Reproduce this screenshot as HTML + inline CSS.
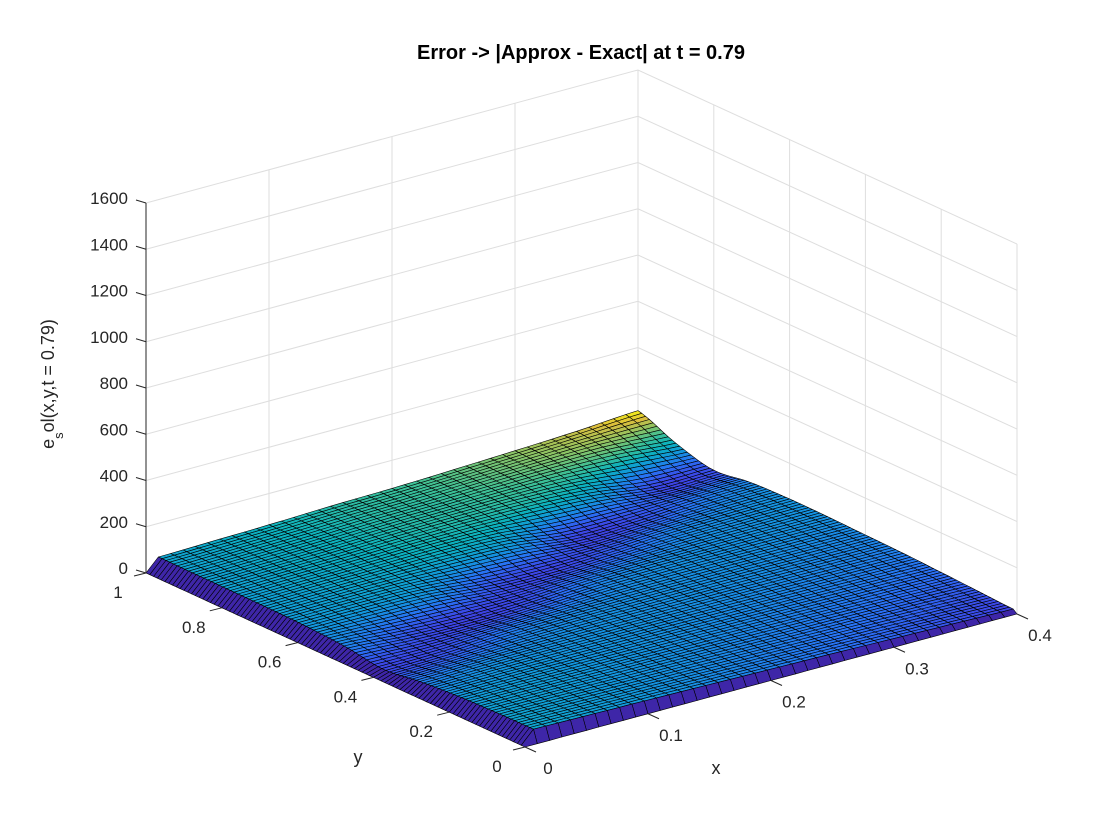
<!DOCTYPE html>
<html>
<head>
<meta charset="utf-8">
<style>
  html,body{margin:0;padding:0;background:#fff;}
  svg{display:block;}
  text{font-family:"Liberation Sans",Arial,sans-serif;fill:#262626;}
</style>
</head>
<body>
<svg id="chart" width="1120" height="840" viewBox="0 0 1120 840" xmlns="http://www.w3.org/2000/svg">
  <rect x="0" y="0" width="1120" height="840" fill="#fff"/>
  <g id="grid"></g>
  <g id="surface"></g>
  <g id="axes"></g>
  <text x="581" y="59" text-anchor="middle" font-size="20" font-weight="bold" style="fill:#000">Error -&gt; |Approx - Exact| at t = 0.79</text>
  <text x="358" y="763" text-anchor="middle" font-size="18">y</text>
  <text x="716" y="774" text-anchor="middle" font-size="18">x</text>
  <text transform="translate(54,384) rotate(-90)" text-anchor="middle" font-size="18">e<tspan font-size="13" dy="9">s</tspan><tspan dy="-9">ol(x,y,t = 0.79)</tspan></text>
</svg>
<script>
// ---- data ----
const xData = [0, 0.05, 0.1, 0.15, 0.2, 0.25, 0.3, 0.35, 0.4];
const yData = [0, 0.1, 0.2, 0.3, 0.4, 0.5, 0.6, 0.7, 0.8, 0.9, 1.0];
const zX000 = [55, 53, 48, 36, 16, 38, 48, 52, 53, 54, 55];
const zX005 = [51, 51, 49, 42, 20, 22, 48, 55, 58, 59, 60];
const zX010 = [47, 47, 47, 44, 34, 14, 44, 57, 62, 64, 66];
const zX015 = [42, 44, 45, 45, 40, 20, 22, 56, 68, 72, 74];
const zX020 = [37, 40, 43, 44, 43, 36, 16, 48, 70, 76, 79];
const zX025 = [32, 36, 40, 43, 44, 42, 24, 18, 66, 82, 88];
const zX030 = [26, 32, 37, 41, 44, 44, 38, 20, 52, 86, 98];
const zX035 = [20, 27, 34, 39, 42, 45, 43, 33, 18, 82, 110];
const zX040 = [14, 22, 30, 37, 41, 45, 46, 40, 20, 62, 127];
const zGrid = [zX000, zX005, zX010, zX015, zX020, zX025, zX030, zX035, zX040];
const zTicks = [0, 200, 400, 600, 800, 1000, 1200, 1400, 1600];
const xTicks = [0, 0.1, 0.2, 0.3, 0.4];
const yTicks = [0, 0.2, 0.4, 0.6, 0.8, 1];

// ---- axis functions ----
const X0 = 525, Y0 = 747, XV = [492, -133], YV = [-379, -174], ZS = 370 / 1600;
const XMAX = 0.4, YMAX = 1;
function proj(x, y, z) {
  const u = x / XMAX, v = y / YMAX;
  return [X0 + u * XV[0] + v * YV[0], Y0 + u * XV[1] + v * YV[1] - z * ZS];
}
const NS = "http://www.w3.org/2000/svg";
function mk(tag, attrs, parent) {
  const e = document.createElementNS(NS, tag);
  for (const k in attrs) e.setAttribute(k, attrs[k]);
  parent.appendChild(e);
  return e;
}
const stops = [[62,38,168],[60,70,230],[40,115,245],[18,150,220],[12,178,190],[60,192,150],[140,195,100],[220,190,60],[249,251,14]];
function parula(t) {
  t = Math.max(0, Math.min(1, t)) * (stops.length - 1);
  const i = Math.min(stops.length - 2, Math.floor(t)), f = t - i;
  const a = stops[i], b = stops[i + 1];
  return "rgb(" + [0,1,2].map(k => Math.round(a[k] + (b[k] - a[k]) * f)).join(",") + ")";
}
function cr(p0, p1, p2, p3, t) {
  return 0.5 * ((2 * p1) + (-p0 + p2) * t + (2 * p0 - 5 * p1 + 4 * p2 - p3) * t * t + (-p0 + 3 * p1 - 3 * p2 + p3) * t * t * t);
}
function gz(i, j) {
  i = Math.max(0, Math.min(xData.length - 1, i));
  j = Math.max(0, Math.min(yData.length - 1, j));
  return zGrid[i][j];
}
function sample(gx, gy) {
  const i = Math.min(xData.length - 2, Math.floor(gx)), j = Math.min(yData.length - 2, Math.floor(gy));
  const tx = gx - i, ty = gy - j;
  const col = [];
  for (let a = -1; a <= 2; a++) col.push(cr(gz(i + a, j - 1), gz(i + a, j), gz(i + a, j + 1), gz(i + a, j + 2), ty));
  return Math.max(0, cr(col[0], col[1], col[2], col[3], tx));
}

// ---- grid ----
const grid = document.getElementById("grid");
const GC = "#dedede";
zTicks.forEach(z => {
  const a = proj(0, YMAX, z), b = proj(XMAX, YMAX, z), c = proj(XMAX, 0, z);
  const l = mk("polyline", {points: a.join(",") + " " + b.join(",") + " " + c.join(","), fill: "none", stroke: GC, "stroke-width": 1}, grid);
  
  
});
const zTop = zTicks[zTicks.length - 1];
xTicks.forEach(x => {
  const a = proj(x, YMAX, 0), b = proj(x, YMAX, zTop);
  const l = mk("line", {x1: a[0], y1: a[1], x2: b[0], y2: b[1], stroke: GC, "stroke-width": 1}, grid);
  
  
});
yTicks.forEach(y => {
  const a = proj(XMAX, y, 0), b = proj(XMAX, y, zTop);
  const l = mk("line", {x1: a[0], y1: a[1], x2: b[0], y2: b[1], stroke: GC, "stroke-width": 1}, grid);
  
  
});

// ---- surface ----
const NX = 40, NY = 100;
const Z = [];
let zmax = 0;
for (let i = 0; i <= NX; i++) {
  Z.push([]);
  for (let j = 0; j <= NY; j++) {
    let z = 0;
    if (i > 0 && j > 0) z = sample((i - 1) / (NX - 1) * (xData.length - 1), (j - 1) / (NY - 1) * (yData.length - 1));
    Z[i].push(z);
    if (z > zmax) zmax = z;
  }
}
const cells = [];
for (let i = 0; i < NX; i++) for (let j = 0; j < NY; j++) {
  const xc = (i + 0.5) / NX * XMAX, yc = (j + 0.5) / NY * YMAX;
  cells.push([proj(xc, yc, 0)[1], i, j]);
}
cells.sort((a, b) => a[0] - b[0]);
const surf = document.getElementById("surface");
cells.forEach(c => {
  const i = c[1], j = c[2];
  const pts = [[i, j], [i + 1, j], [i + 1, j + 1], [i, j + 1]].map(p => proj(p[0] / NX * XMAX, p[1] / NY * YMAX, Z[p[0]][p[1]]).map(v => v.toFixed(1)).join(",")).join(" ");
  const p = mk("polygon", {points: pts, fill: parula(Z[i][j] / zmax), stroke: "#000", "stroke-width": 0.6, "stroke-linejoin": "round"}, surf);
  
  
});

// ---- axes ----
const axes = document.getElementById("axes");
const za = proj(0, YMAX, 0), zb = proj(0, YMAX, zTop);
const zl = mk("line", {x1: za[0], y1: za[1], x2: zb[0], y2: zb[1], stroke: "#262626", "stroke-width": 1}, axes);


zTicks.forEach(z => {
  const p = proj(0, YMAX, z);
  const t = mk("line", {x1: p[0], y1: p[1], x2: p[0] - 10, y2: p[1] - 3, stroke: "#262626", "stroke-width": 1}, axes);
  
  
  const tx = mk("text", {x: p[0] - 18, y: p[1] + 1, "text-anchor": "end", "font-size": 17}, axes);
  tx.textContent = String(z);
  
  
});
xTicks.forEach(x => {
  const p = proj(x, 0, 0);
  const t = mk("line", {x1: p[0], y1: p[1], x2: p[0] + 11, y2: p[1] + 5, stroke: "#262626", "stroke-width": 1}, axes);
  
  
  const tx = mk("text", {x: p[0] + 23, y: p[1] + 27, "text-anchor": "middle", "font-size": 17}, axes);
  tx.textContent = String(x);
  
  
});
yTicks.forEach(y => {
  const p = proj(0, y, 0);
  const t = mk("line", {x1: p[0], y1: p[1], x2: p[0] - 12, y2: p[1] + 3, stroke: "#262626", "stroke-width": 1}, axes);
  
  
  const tx = mk("text", {x: p[0] - 28, y: p[1] + 25, "text-anchor": "middle", "font-size": 17}, axes);
  tx.textContent = String(y);
  
  
});
</script>
</body>
</html>
